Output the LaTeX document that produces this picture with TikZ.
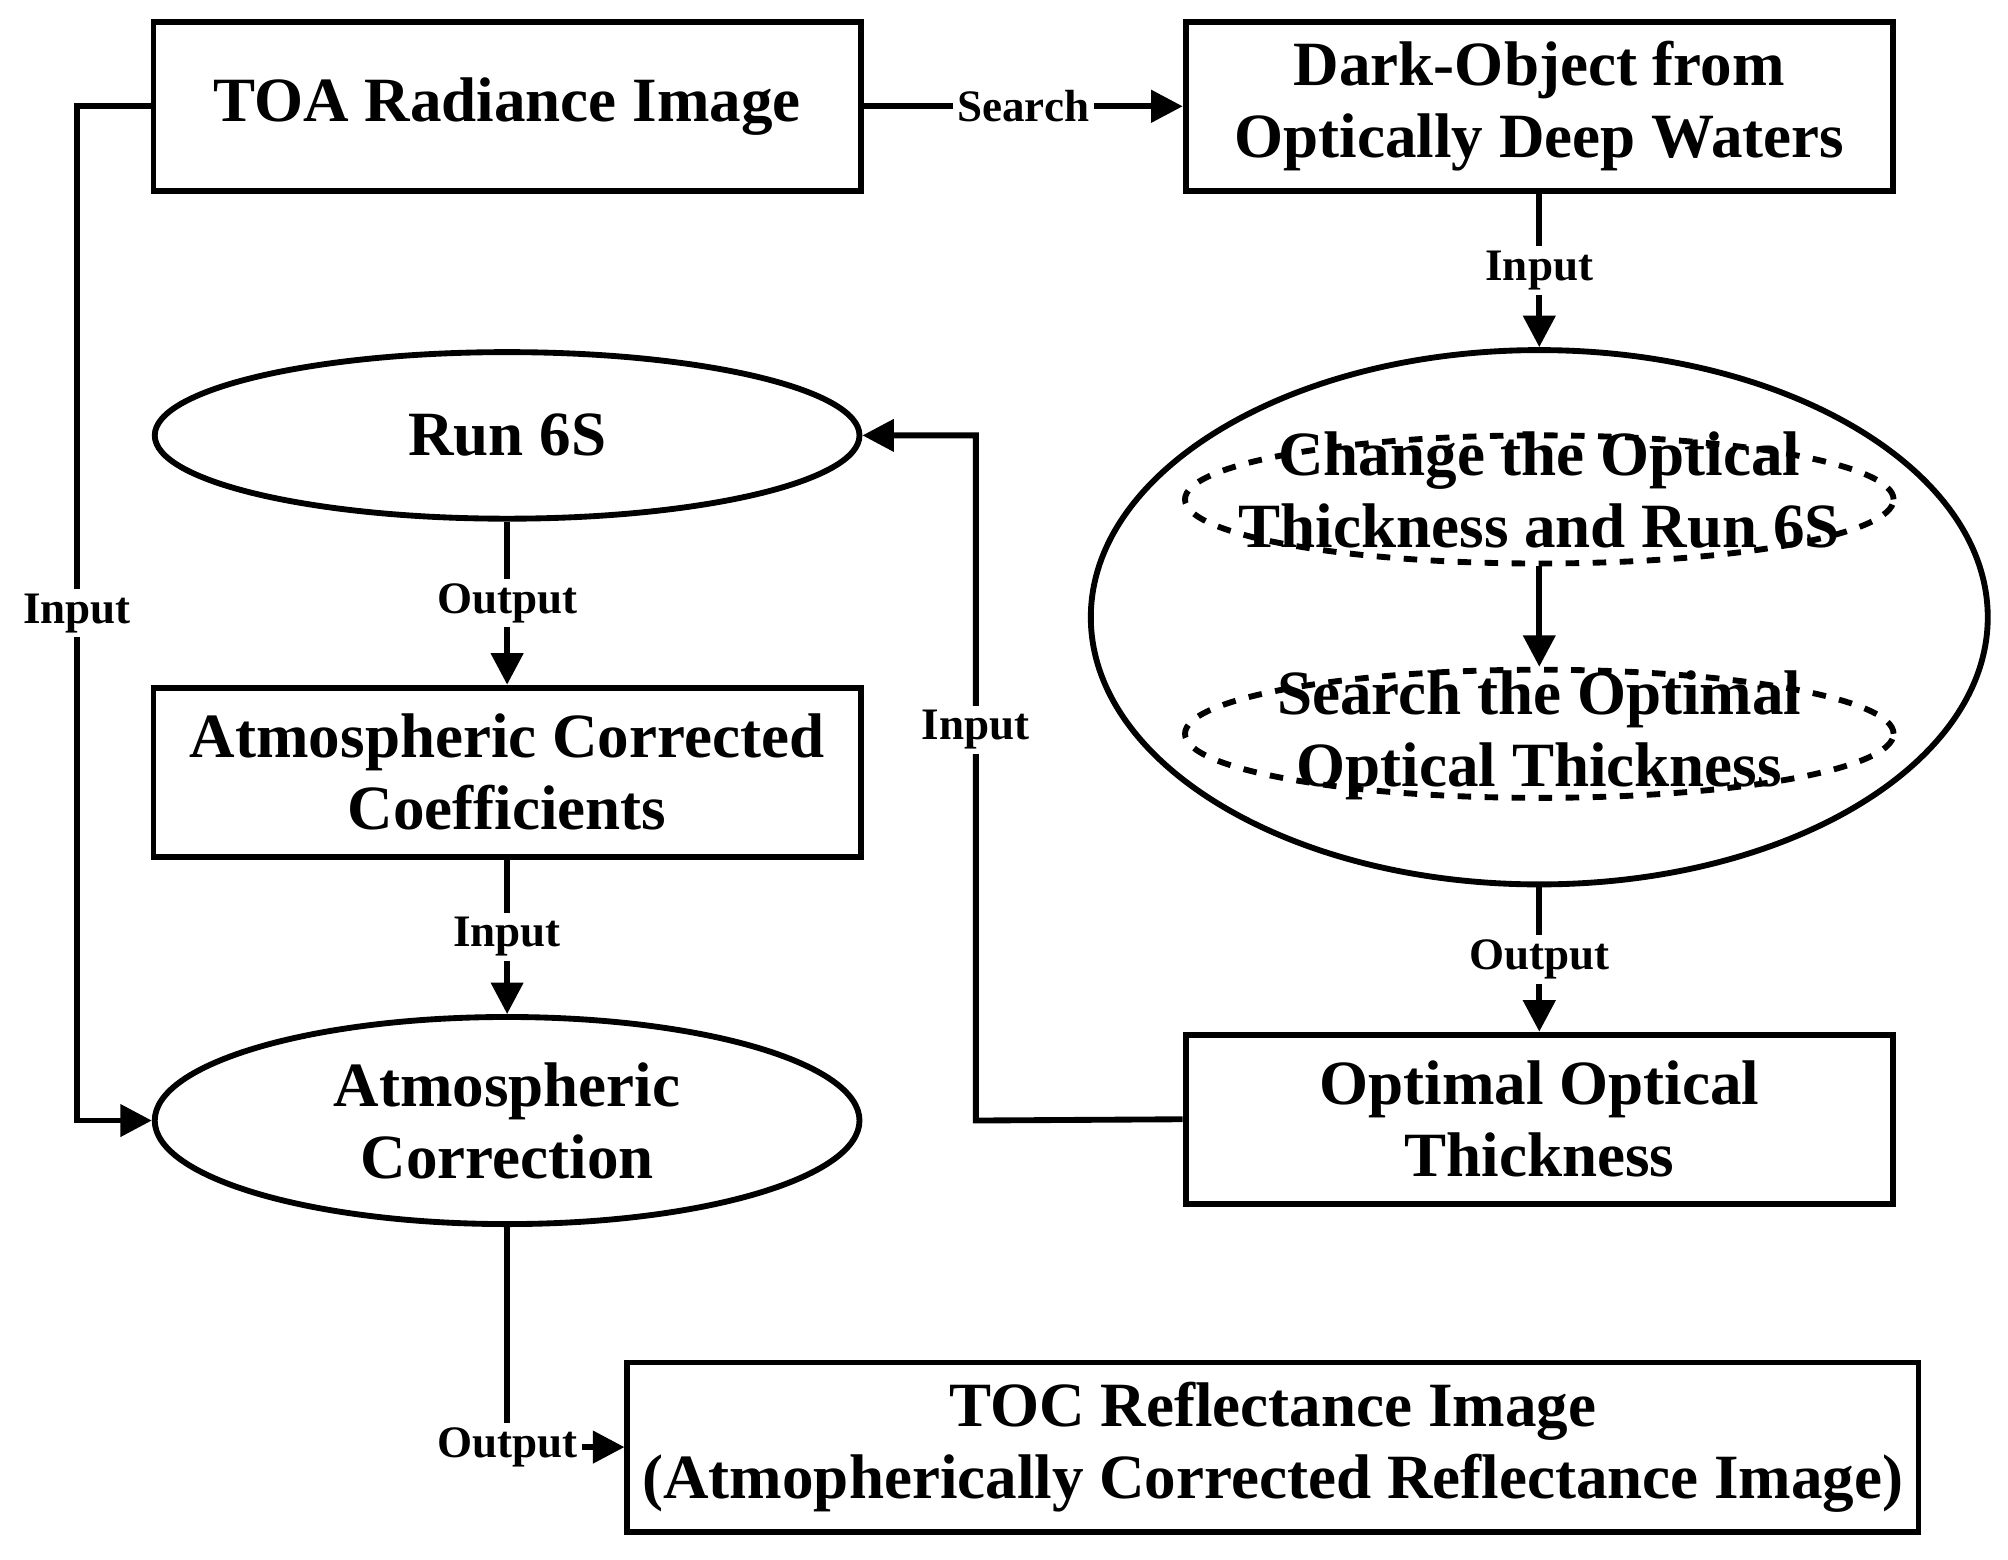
\documentclass[tikz,border=0pt]{standalone}
\usepackage{fontspec}
\setmainfont{Liberation Serif}
\usetikzlibrary{arrows.meta,shapes.geometric}
\begin{document}
\begin{tikzpicture}[x=0.01cm,y=-0.01cm, line width=1.3pt, >={Triangle[length=7pt,width=7pt]},
  box/.style={draw, minimum width=552\pgflinewidth/1.3/100*0+5.52cm, minimum height=1.32cm, align=center, font=\bfseries\fontsize{14}{16}\selectfont},
  ell/.style={draw, ellipse, minimum width=5.5cm, minimum height=1.3cm, align=center, font=\bfseries\fontsize{14}{16}\selectfont},
  lab/.style={fill=white, inner sep=1pt, font=\bfseries\fontsize{10}{12}\selectfont}]
\useasboundingbox (0,0) rectangle (1568,1218);
\node[box] (toa) at (396,83) {TOA Radiance Image};
\node[box] (dark) at (1202,83) {Dark-Object from\\Optically Deep Waters};
\node[ell] (run) at (396,340) {Run 6S};
\node[draw, ellipse, minimum width=7cm, minimum height=4.17cm] (big) at (1202,482) {};
\node[ell, dashed, minimum width=5.53cm, minimum height=1cm] (chg) at (1202,390) {};
\node[font=\bfseries\fontsize{14}{16}\selectfont, align=center] (chgt) at (1202,383) {Change the Optical\\Thickness and Run 6S};
\node[ell, dashed, minimum width=5.53cm, minimum height=1cm] (srch) at (1202,573) {};
\node[font=\bfseries\fontsize{14}{16}\selectfont, align=center] (srcht) at (1202,574) {Search the Optimal\\Optical Thickness};
\node[box] (acc) at (396,603) {Atmospheric Corrected\\Coefficients};
\node[ell] (ac) at (396,875) {Atmospheric\\Correction};
\node[box] (oot) at (1202,874) {Optimal Optical\\Thickness};
\node[box, minimum width=9.68cm] (toc) at (994,1130) {TOC Reflectance Image\\(Atmopherically Corrected Reflectance Image)};
\coordinate (c1) at (60,83);
\coordinate (c2) at (60,875);
\coordinate (c3) at (762,875);
\coordinate (c4) at (762,340);
\coordinate (c5) at (396,1130);
\draw[->] (toa.west) -- (c1) -- node[lab]{Input} (c2) -- (ac.west);
\draw[->] (toa.east) -- node[lab]{Search} (dark.west);
\draw[->] (dark.south) -- node[lab]{Input} (big.north);
\draw[->] (run.south) -- node[lab]{Output} (acc.north);
\draw[->] (acc.south) -- node[lab]{Input} (ac.north);
\draw[->] (chg.south) -- (srch.north);
\draw[->] (big.south) -- node[lab]{Output} (oot.north);
\draw[->] (oot.west) -- (c3) -- node[lab, pos=0.57]{Input} (c4) -- (run.east);
\draw[->] (ac.south) -- (c5) node[lab]{Output} -- (toc.west);
\end{tikzpicture}
\end{document}
